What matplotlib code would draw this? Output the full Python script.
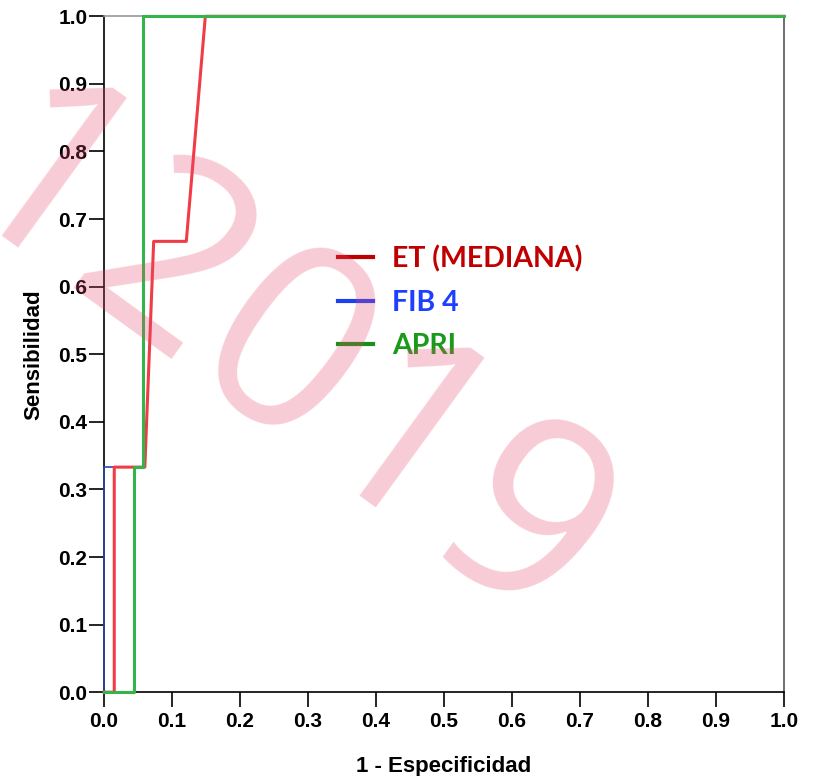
import matplotlib
matplotlib.use("Agg")
import matplotlib.pyplot as plt
from matplotlib.lines import Line2D

# ROC curve points
et_fpr = [0.0, 0.015, 0.015, 0.060, 0.073, 0.121, 0.149, 1.0]
et_tpr = [0.0, 0.0, 0.333, 0.333, 0.667, 0.667, 1.0, 1.0]
fib_fpr = [0.0, 0.0, 0.058, 0.058, 1.0]
fib_tpr = [0.0, 0.333, 0.333, 1.0, 1.0]
apri_fpr = [0.0, 0.044, 0.044, 0.058, 0.058, 1.0]
apri_tpr = [0.0, 0.0, 0.333, 0.333, 1.0, 1.0]

labels = ["ET (MEDIANA)", "FIB 4", "APRI"]
ticks = [i / 10 for i in range(11)]
watermark = "12019"

font = ["Liberation Sans", "DejaVu Sans"]

fig = plt.figure(figsize=(8.13, 7.76), dpi=100)
ax = fig.add_axes([0.128, 0.108, 0.836, 0.871])

ax.plot(fib_fpr, fib_tpr, color="#2a4aa8", lw=1.2, clip_on=False, zorder=3)
ax.plot(et_fpr, et_tpr, color="#f03c46", lw=2.2, clip_on=False, zorder=4)
ax.plot(apri_fpr, apri_tpr, color="#35b44c", lw=2.2, clip_on=False, zorder=5)

ax.set_xlim(0, 1)
ax.set_ylim(0, 1)
ax.set_xticks(ticks)
ax.set_yticks(ticks)
ax.set_xticklabels([f"{t:.1f}" for t in ticks], family=font, fontsize=15, fontweight="bold")
ax.set_yticklabels([f"{t:.1f}" for t in ticks], family=font, fontsize=15, fontweight="bold")
ax.tick_params(direction="out", length=11, width=1.2, pad=1, colors="black")
ax.tick_params(axis="x", pad=3)

for side in ["left", "bottom"]:
    ax.spines[side].set_color("black")
    ax.spines[side].set_linewidth(1.2)
ax.spines["top"].set_color("#999999")
ax.spines["right"].set_color("#555555")
ax.spines["top"].set_linewidth(1.2)
ax.spines["right"].set_linewidth(1.2)

ax.set_xlabel("1 - Especificidad", family=font, fontsize=16, fontweight="bold", labelpad=18)
ax.set_ylabel("Sensibilidad", family=font, fontsize=16, fontweight="bold", labelpad=10)

handles = [Line2D([], [], color="#c00000", lw=3),
           Line2D([], [], color="#2040f0", lw=3),
           Line2D([], [], color="#1a8f1a", lw=3)]
leg = ax.legend(handles, labels, loc="center left", bbox_to_anchor=(0.307, 0.577),
                frameon=False, handlelength=1.2, handletextpad=0.7, labelspacing=0.62,
                labelcolor=["#c00000", "#1f3fff", "#1a9a1a"],
                prop={"family": ["Lato", "DejaVu Sans"], "weight": "bold", "size": 20.5})

fig.text(0.341, 0.523, watermark, fontsize=186, family=["Open Sans", "DejaVu Sans"],
         color="#e8486a", alpha=0.28, rotation=-36,
         ha="center", va="center", rotation_mode="anchor", zorder=10)

fig.savefig("out.png", dpi=100)
